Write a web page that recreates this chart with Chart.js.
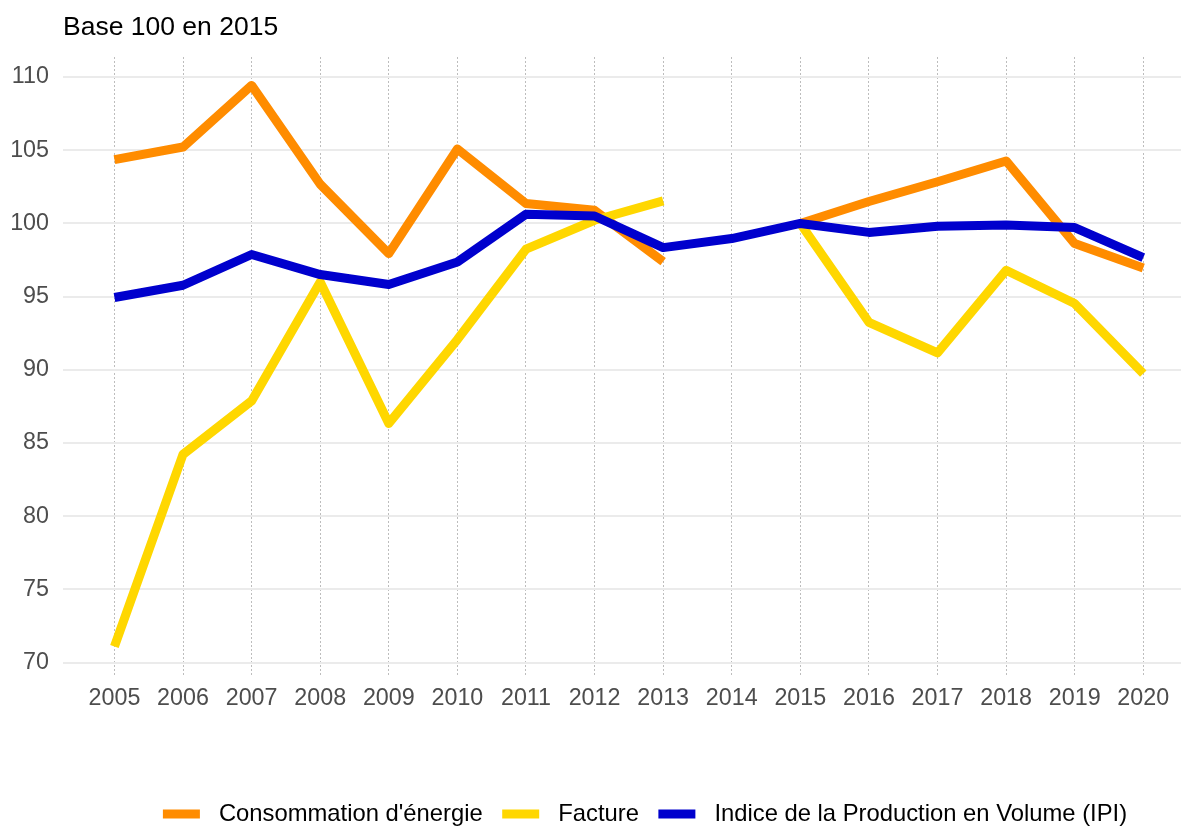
<!DOCTYPE html>
<html>
<head>
<meta charset="utf-8">
<script src="https://cdn.jsdelivr.net/npm/chart.js@4/dist/chart.umd.min.js"></script>
<style>
html,body{margin:0;padding:0;background:#ffffff;overflow:hidden}
#wrap{width:1181px;height:826px;position:relative}
</style>
</head>
<body>
<div id="wrap"><canvas id="c" width="1181" height="826"></canvas></div>
<script>
// ---- data ----
const years = [2005,2006,2007,2008,2009,2010,2011,2012,2013,2014,2015,2016,2017,2018,2019,2020];
const consommation = [104.36,105.22,109.43,102.68,97.94,105.09,101.36,100.9,97.4,null,100.0,101.5,102.85,104.27,98.63,96.96];
const facture = [71.1,84.23,87.88,96.0,86.34,92.07,98.24,100.22,101.54,null,100.0,93.25,91.16,96.8,94.53,89.75];
const ipi = [94.94,95.78,97.88,96.51,95.83,97.37,100.63,100.51,98.35,98.97,100.0,99.39,99.81,99.9,99.72,97.67];
const seriesLabels = ["Consommation d'énergie", "Facture", "Indice de la Production en Volume (IPI)"];
const yTicks = [70,75,80,85,90,95,100,105,110];
const titleText = "Base 100 en 2015";

const FONT = '"Liberation Sans", Arial, Helvetica, sans-serif';
Chart.defaults.font.family = FONT;

function pts(vals){ return years.map((y,i)=>({x:y, y:vals[i]})); }

const legendPlugin = {
  id: 'customLegend',
  afterDraw(chart){
    const ctx = chart.ctx;
    const fs = 23.8;
    ctx.save();
    ctx.font = fs + 'px ' + FONT;
    const keyW = 37, gapKT = 19, gapItem = 19.5;
    const items = chart.data.datasets.map(d=>({label:d.label, color:d.borderColor, w: ctx.measureText(d.label).width}));
    let total = 0;
    items.forEach((it,i)=>{ total += keyW + gapKT + it.w + (i<items.length-1?gapItem:0); });
    let x = 645 - total/2;
    const cy = 814;
    items.forEach(it=>{
      ctx.strokeStyle = it.color;
      ctx.lineWidth = 9;
      ctx.lineCap = 'butt';
      ctx.beginPath(); ctx.moveTo(x, cy); ctx.lineTo(x+keyW, cy); ctx.stroke();
      x += keyW + gapKT;
      ctx.fillStyle = '#000000';
      ctx.textBaseline = 'middle';
      ctx.textAlign = 'left';
      ctx.fillText(it.label, x, cy);
      x += it.w + gapItem;
    });
    ctx.restore();
  }
};

const lineCommon = {
  pointRadius: 0, pointHoverRadius: 0, borderWidth: 9, tension: 0,
  borderJoinStyle: 'round', borderCapStyle: 'butt', spanGaps: false, fill: false
};

new Chart(document.getElementById('c'), {
  type: 'line',
  data: {
    datasets: [
      Object.assign({label: seriesLabels[0], data: pts(consommation), borderColor: '#FF8C00', backgroundColor: '#FF8C00', order: 3}, lineCommon),
      Object.assign({label: seriesLabels[1], data: pts(facture), borderColor: '#FFD700', backgroundColor: '#FFD700', order: 2}, lineCommon),
      Object.assign({label: seriesLabels[2], data: pts(ipi), borderColor: '#0000CD', backgroundColor: '#0000CD', order: 1}, lineCommon)
    ]
  },
  options: {
    responsive: false,
    animation: false,
    devicePixelRatio: 1,
    layout: { padding: 0 },
    plugins: {
      legend: { display: false },
      tooltip: { enabled: false },
      title: {
        display: true, text: titleText, align: 'start', fullSize: false,
        color: '#000000', font: { size: 26.5, weight: 'normal' },
        padding: { top: 12, bottom: 13.2 }
      }
    },
    scales: {
      x: {
        type: 'linear', min: 2004.25, max: 2020.55,
        afterBuildTicks: s => { s.ticks = years.map(v=>({value:v})); },
        afterFit: s => { s.height = 150; },
        ticks: {
          autoSkip: false, maxRotation: 0, minRotation: 0, padding: 9,
          color: '#4D4D4D', font: { size: 23.3 },
          callback: v => String(v)
        },
        grid: { color: '#BDBDBD', lineWidth: 1, drawTicks: false },
        border: { display: false, dash: [2, 2] }
      },
      y: {
        type: 'linear', min: 69.09, max: 111.37,
        afterBuildTicks: s => { s.ticks = yTicks.map(v=>({value:v})); },
        afterFit: s => { s.width = 63; },
        ticks: {
          padding: 14, color: '#4D4D4D', font: { size: 23.3 },
          callback: v => String(v)
        },
        grid: { color: '#EBEBEB', lineWidth: 2, drawTicks: false },
        border: { display: false }
      }
    }
  },
  plugins: [legendPlugin]
});
</script>
</body>
</html>
